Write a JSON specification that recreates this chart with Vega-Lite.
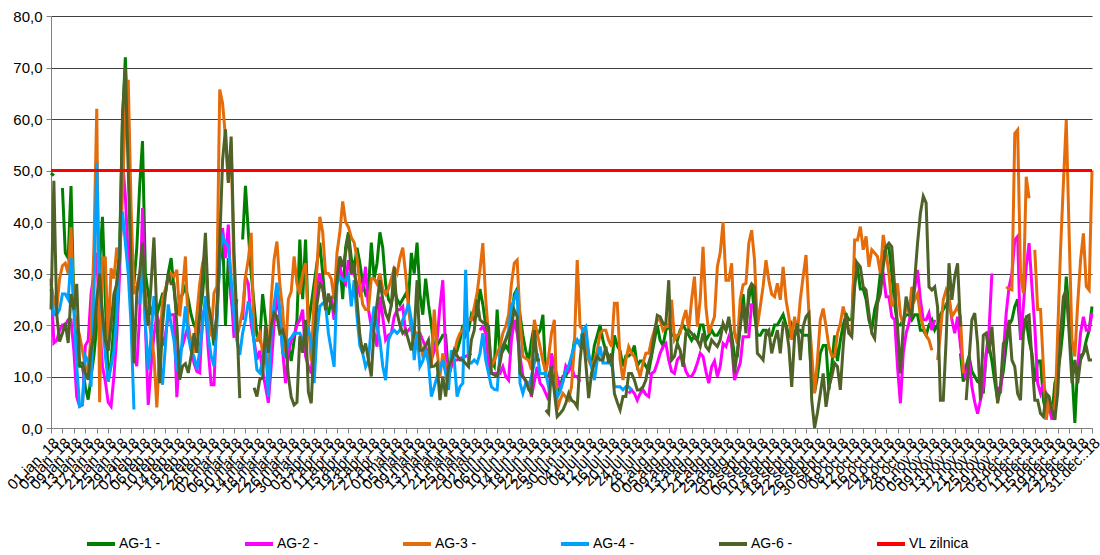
{
"$schema":"https://vega.github.io/schema/vega-lite/v6.json",
"width":1041,"height":412,
"autosize":{"type":"none"},
"padding":{"left":51,"top":16,"right":8,"bottom":127},
"background":"white",
"config":{"view":{"stroke":null},"font":"Liberation Sans"},
"datasets":{
"vl":[{"zi":0,"s":"vl","val":50},{"zi":364,"s":"vl","val":50}],
"ag":[
{"zi":0,"a1":49.5,"a2":29,"a3":28,"a4":27,"a6":23},
{"zi":1,"a1":49,"a2":16.5,"a3":25,"a4":22,"a6":48},
{"zi":2,"a1":null,"a2":17,"a3":23,"a4":22,"a6":22},
{"zi":3,"a1":null,"a2":19,"a3":29,"a4":23,"a6":16.8},
{"zi":4,"a1":46.6,"a2":20,"a3":31.5,"a4":26,"a6":18.4},
{"zi":5,"a1":34,"a2":20,"a3":32,"a4":26,"a6":20.4},
{"zi":6,"a1":33,"a2":21,"a3":30,"a4":25,"a6":16.5},
{"zi":7,"a1":47,"a2":21,"a3":39,"a4":33,"a6":26},
{"zi":8,"a1":24,"a2":15,"a3":23,"a4":23,"a6":23},
{"zi":9,"a1":15,"a2":6,"a3":20,"a4":12,"a6":28},
{"zi":10,"a1":12,"a2":4.2,"a3":18,"a4":4.2,"a6":12.6},
{"zi":11,"a1":12,"a2":4.5,"a3":15,"a4":4.5,"a6":12.6},
{"zi":12,"a1":8,"a2":16,"a3":12,"a4":14,"a6":10.7},
{"zi":13,"a1":5.5,"a2":17,"a3":11,"a4":13,"a6":9.4},
{"zi":14,"a1":10,"a2":26,"a3":18,"a4":8,"a6":15.2},
{"zi":15,"a1":14,"a2":30,"a3":35,"a4":25,"a6":18},
{"zi":16,"a1":20,"a2":34,"a3":62,"a4":51.5,"a6":25},
{"zi":17,"a1":32,"a2":20,"a3":5,"a4":27.5,"a6":30},
{"zi":18,"a1":41,"a2":12,"a3":33,"a4":22,"a6":22},
{"zi":19,"a1":25,"a2":9,"a3":33,"a4":14,"a6":17},
{"zi":20,"a1":9,"a2":5,"a3":17,"a4":9,"a6":15},
{"zi":21,"a1":13,"a2":4.2,"a3":31,"a4":12,"a6":20},
{"zi":22,"a1":20,"a2":10,"a3":29,"a4":15,"a6":26},
{"zi":23,"a1":28,"a2":18,"a3":35,"a4":22,"a6":28},
{"zi":24,"a1":35,"a2":30,"a3":33,"a4":35,"a6":33},
{"zi":25,"a1":60,"a2":52,"a3":45,"a4":42,"a6":60.5},
{"zi":26,"a1":72,"a2":45,"a3":62,"a4":36,"a6":70},
{"zi":27,"a1":55,"a2":33,"a3":67.6,"a4":30,"a6":50},
{"zi":28,"a1":31,"a2":25,"a3":43,"a4":20,"a6":32},
{"zi":29,"a1":28,"a2":14,"a3":26,"a4":3.6,"a6":12.6},
{"zi":30,"a1":35,"a2":12,"a3":27.5,"a4":null,"a6":26},
{"zi":31,"a1":47,"a2":22,"a3":30,"a4":24,"a6":30},
{"zi":32,"a1":55.7,"a2":42.7,"a3":32,"a4":31,"a6":36},
{"zi":33,"a1":30,"a2":20,"a3":26,"a4":20,"a6":24},
{"zi":34,"a1":26,"a2":4.5,"a3":22,"a4":11.3,"a6":20},
{"zi":35,"a1":22,"a2":12,"a3":18,"a4":18,"a6":28},
{"zi":36,"a1":24,"a2":18,"a3":14,"a4":25.6,"a6":37},
{"zi":37,"a1":22,"a2":22,"a3":4,"a4":20,"a6":22},
{"zi":38,"a1":24,"a2":20,"a3":15,"a4":13,"a6":8.7},
{"zi":39,"a1":26,"a2":16,"a3":25,"a4":8.4,"a6":20},
{"zi":40,"a1":26,"a2":18,"a3":27,"a4":16,"a6":26},
{"zi":41,"a1":30,"a2":22,"a3":29,"a4":24,"a6":30},
{"zi":42,"a1":33,"a2":22,"a3":30,"a4":20,"a6":28},
{"zi":43,"a1":27,"a2":22,"a3":29.4,"a4":17,"a6":28},
{"zi":44,"a1":22,"a2":6,"a3":30.7,"a4":11.3,"a6":20},
{"zi":45,"a1":25,"a2":14.6,"a3":21.7,"a4":11.3,"a6":9.4},
{"zi":46,"a1":26,"a2":16,"a3":27,"a4":18,"a6":12},
{"zi":47,"a1":27.5,"a2":18,"a3":33.3,"a4":23.6,"a6":12.5},
{"zi":48,"a1":25,"a2":20,"a3":19,"a4":17.8,"a6":10.7},
{"zi":49,"a1":22,"a2":16,"a3":17,"a4":15,"a6":14},
{"zi":50,"a1":20,"a2":12.6,"a3":14.6,"a4":13.9,"a6":18.4},
{"zi":51,"a1":19,"a2":11,"a3":22,"a4":11.3,"a6":14.6},
{"zi":52,"a1":22,"a2":10.7,"a3":28,"a4":15,"a6":21.7},
{"zi":53,"a1":26,"a2":22,"a3":32,"a4":19.8,"a6":29.4},
{"zi":54,"a1":33,"a2":23.6,"a3":34,"a4":25.6,"a6":37.9},
{"zi":55,"a1":24,"a2":15,"a3":22.3,"a4":17.8,"a6":24},
{"zi":56,"a1":20,"a2":8.4,"a3":17.8,"a4":14,"a6":21},
{"zi":57,"a1":16,"a2":8.4,"a3":26.2,"a4":12,"a6":17},
{"zi":58,"a1":22,"a2":23.6,"a3":27.5,"a4":19.8,"a6":22},
{"zi":59,"a1":32,"a2":34,"a3":65.7,"a4":34,"a6":36},
{"zi":60,"a1":38,"a2":38.8,"a3":63,"a4":37.2,"a6":52},
{"zi":61,"a1":20,"a2":33,"a3":56.6,"a4":36,"a6":58},
{"zi":62,"a1":33,"a2":39.5,"a3":48,"a4":35.3,"a6":47.6},
{"zi":63,"a1":25,"a2":26,"a3":54.7,"a4":28.8,"a6":56.6},
{"zi":64,"a1":22,"a2":17.5,"a3":30,"a4":22,"a6":34},
{"zi":65,"a1":25,"a2":null,"a3":17.8,"a4":17,"a6":21},
{"zi":66,"a1":null,"a2":null,"a3":20,"a4":14.2,"a6":5.8},
{"zi":67,"a1":36.6,"a2":21,"a3":23,"a4":18.4,"a6":null},
{"zi":68,"a1":47,"a2":29.4,"a3":29.4,"a4":21,"a6":null},
{"zi":69,"a1":38,"a2":28,"a3":32.7,"a4":24.6,"a6":null},
{"zi":70,"a1":30,"a2":20,"a3":37.9,"a4":22.3,"a6":null},
{"zi":71,"a1":24,"a2":17,"a3":17,"a4":16.5,"a6":7.8},
{"zi":72,"a1":18,"a2":13.3,"a3":17,"a4":11.3,"a6":6.1},
{"zi":73,"a1":17,"a2":15,"a3":18.4,"a4":10.7,"a6":9.4},
{"zi":74,"a1":26,"a2":11,"a3":14.6,"a4":13,"a6":9.7},
{"zi":75,"a1":21,"a2":8,"a3":13,"a4":16.5,"a6":19.8},
{"zi":76,"a1":15,"a2":4.9,"a3":12,"a4":6.1,"a6":14.6},
{"zi":77,"a1":19,"a2":12,"a3":25,"a4":18.4,"a6":19.8},
{"zi":78,"a1":21,"a2":20,"a3":32.7,"a4":24,"a6":22.3},
{"zi":79,"a1":25,"a2":27.5,"a3":36.2,"a4":28.2,"a6":21.7},
{"zi":80,"a1":22,"a2":22.3,"a3":28,"a4":22.9,"a6":18.4},
{"zi":81,"a1":19,"a2":15,"a3":23,"a4":14.6,"a6":19},
{"zi":82,"a1":15,"a2":8.7,"a3":14,"a4":13.9,"a6":17},
{"zi":83,"a1":16,"a2":14.6,"a3":25,"a4":17,"a6":10},
{"zi":84,"a1":13,"a2":17,"a3":26.5,"a4":17.5,"a6":6},
{"zi":85,"a1":17,"a2":18,"a3":33.3,"a4":18.4,"a6":4.5},
{"zi":86,"a1":21,"a2":20,"a3":28,"a4":18.4,"a6":5},
{"zi":87,"a1":36.6,"a2":21,"a3":26,"a4":18.4,"a6":17.8},
{"zi":88,"a1":25,"a2":23,"a3":30,"a4":17,"a6":14.6},
{"zi":89,"a1":36.6,"a2":14,"a3":32,"a4":17.5,"a6":21},
{"zi":90,"a1":20,"a2":12,"a3":20,"a4":19,"a6":7},
{"zi":91,"a1":24,"a2":10.6,"a3":13,"a4":17.1,"a6":4.8},
{"zi":92,"a1":28,"a2":20,"a3":25,"a4":8.7,"a6":17.1},
{"zi":93,"a1":32,"a2":28,"a3":31,"a4":18.4,"a6":24},
{"zi":94,"a1":36,"a2":30,"a3":41,"a4":23.6,"a6":28},
{"zi":95,"a1":30,"a2":27,"a3":38,"a4":24.2,"a6":27.4},
{"zi":96,"a1":24,"a2":24,"a3":30,"a4":24,"a6":22.9},
{"zi":97,"a1":22,"a2":25,"a3":30,"a4":18.4,"a6":26.1},
{"zi":98,"a1":25,"a2":25,"a3":29,"a4":15.1,"a6":24},
{"zi":99,"a1":26,"a2":21,"a3":25,"a4":11.9,"a6":22.9},
{"zi":100,"a1":30,"a2":28.7,"a3":34,"a4":28,"a6":28.7},
{"zi":101,"a1":32,"a2":31.3,"a3":38,"a4":29.4,"a6":33.3},
{"zi":102,"a1":25,"a2":29,"a3":44,"a4":28.7,"a6":31.3},
{"zi":103,"a1":35,"a2":28,"a3":40,"a4":28.7,"a6":34},
{"zi":104,"a1":38,"a2":32.6,"a3":39,"a4":29.7,"a6":37.5},
{"zi":105,"a1":33,"a2":30,"a3":37,"a4":23.6,"a6":30},
{"zi":106,"a1":31,"a2":30,"a3":36,"a4":28.7,"a6":32},
{"zi":107,"a1":35,"a2":28,"a3":33,"a4":21.6,"a6":24.9},
{"zi":108,"a1":32,"a2":26,"a3":28,"a4":16,"a6":18},
{"zi":109,"a1":28,"a2":27,"a3":24,"a4":14.5,"a6":14.5},
{"zi":110,"a1":26,"a2":31.3,"a3":23,"a4":11.9,"a6":16.4},
{"zi":111,"a1":27,"a2":23,"a3":23,"a4":13.2,"a6":13.2},
{"zi":112,"a1":36,"a2":19.7,"a3":29,"a4":19.7,"a6":10},
{"zi":113,"a1":29,"a2":18.4,"a3":29,"a4":23.6,"a6":19.7},
{"zi":114,"a1":32,"a2":15.8,"a3":28,"a4":19.7,"a6":24.2},
{"zi":115,"a1":38,"a2":25.5,"a3":30,"a4":17.1,"a6":28.7},
{"zi":116,"a1":35,"a2":21.6,"a3":27,"a4":12,"a6":25},
{"zi":117,"a1":28,"a2":17.1,"a3":26,"a4":9.3,"a6":22.3},
{"zi":118,"a1":25,"a2":18,"a3":27,"a4":17.1,"a6":21},
{"zi":119,"a1":24,"a2":18.4,"a3":29,"a4":18.4,"a6":24},
{"zi":120,"a1":27,"a2":21.6,"a3":31,"a4":19,"a6":31.3},
{"zi":121,"a1":25,"a2":22.9,"a3":30,"a4":18.4,"a6":22.3},
{"zi":122,"a1":24,"a2":23,"a3":33,"a4":19,"a6":20},
{"zi":123,"a1":25,"a2":23.6,"a3":35,"a4":21,"a6":18.4},
{"zi":124,"a1":26,"a2":18.4,"a3":30,"a4":22.3,"a6":19},
{"zi":125,"a1":25,"a2":19,"a3":23,"a4":24.2,"a6":17},
{"zi":126,"a1":34,"a2":19.7,"a3":19,"a4":21,"a6":15.1},
{"zi":127,"a1":30,"a2":18.4,"a3":19,"a4":13.2,"a6":18.4},
{"zi":128,"a1":36,"a2":18.4,"a3":18,"a4":18.4,"a6":28.7},
{"zi":129,"a1":26,"a2":18.4,"a3":17,"a4":11.9,"a6":15.1},
{"zi":130,"a1":22,"a2":17,"a3":14,"a4":13,"a6":15.1},
{"zi":131,"a1":29,"a2":15.8,"a3":15,"a4":15.1,"a6":16},
{"zi":132,"a1":24,"a2":14,"a3":14,"a4":12.6,"a6":17.1},
{"zi":133,"a1":20,"a2":13.2,"a3":12,"a4":6.1,"a6":11.9},
{"zi":134,"a1":15,"a2":15,"a3":23,"a4":8,"a6":12},
{"zi":135,"a1":16,"a2":17.1,"a3":15,"a4":10,"a6":12.6},
{"zi":136,"a1":17,"a2":23.6,"a3":10,"a4":11.3,"a6":5.4},
{"zi":137,"a1":18,"a2":28.7,"a3":14.5,"a4":13.2,"a6":10},
{"zi":138,"a1":18,"a2":14.5,"a3":12,"a4":10.6,"a6":6.1},
{"zi":139,"a1":10,"a2":10.6,"a3":12,"a4":7.4,"a6":11.9},
{"zi":140,"a1":12,"a2":12,"a3":13,"a4":15.1,"a6":13},
{"zi":141,"a1":14,"a2":13.2,"a3":14.5,"a4":13.2,"a6":15.1},
{"zi":142,"a1":15,"a2":13.2,"a3":17,"a4":6.1,"a6":14},
{"zi":143,"a1":17,"a2":13.5,"a3":18.4,"a4":8,"a6":13.2},
{"zi":144,"a1":20,"a2":13.7,"a3":19,"a4":8.7,"a6":13.2},
{"zi":145,"a1":18,"a2":13.9,"a3":20.3,"a4":30.7,"a6":12.5},
{"zi":146,"a1":19,"a2":14.2,"a3":21,"a4":12.6,"a6":11.9},
{"zi":147,"a1":22,"a2":14.5,"a3":21,"a4":12.6,"a6":17.1},
{"zi":148,"a1":21,"a2":null,"a3":23.5,"a4":13.2,"a6":19},
{"zi":149,"a1":22,"a2":null,"a3":26.2,"a4":12.6,"a6":24.9},
{"zi":150,"a1":27,"a2":19,"a3":30.7,"a4":14.5,"a6":21},
{"zi":151,"a1":24,"a2":19.7,"a3":35.9,"a4":18.4,"a6":20.5},
{"zi":152,"a1":20,"a2":18.4,"a3":25,"a4":13.2,"a6":20.4},
{"zi":153,"a1":16,"a2":12.6,"a3":18,"a4":10.6,"a6":19.7},
{"zi":154,"a1":13,"a2":10.6,"a3":12,"a4":8,"a6":10.6},
{"zi":155,"a1":12,"a2":10.6,"a3":13,"a4":7.5,"a6":10.3},
{"zi":156,"a1":23,"a2":10.6,"a3":14.5,"a4":7.4,"a6":10},
{"zi":157,"a1":14,"a2":10.6,"a3":15.8,"a4":14.5,"a6":12.6},
{"zi":158,"a1":15,"a2":11.9,"a3":18.4,"a4":15.8,"a6":15.8},
{"zi":159,"a1":16,"a2":10,"a3":19.7,"a4":17.1,"a6":17.1},
{"zi":160,"a1":15,"a2":9.3,"a3":22,"a4":19,"a6":18.4},
{"zi":161,"a1":21,"a2":17.1,"a3":28,"a4":23.6,"a6":20},
{"zi":162,"a1":26,"a2":21,"a3":32,"a4":25,"a6":22.9},
{"zi":163,"a1":27,"a2":18.4,"a3":32.6,"a4":26.8,"a6":21.6},
{"zi":164,"a1":22,"a2":14,"a3":21,"a4":8.7,"a6":10.6},
{"zi":165,"a1":18,"a2":10,"a3":13.9,"a4":6.7,"a6":10},
{"zi":166,"a1":15,"a2":9,"a3":13.5,"a4":8.7,"a6":9.3},
{"zi":167,"a1":13,"a2":8.7,"a3":13.2,"a4":8,"a6":7.5},
{"zi":168,"a1":17,"a2":6.1,"a3":11.3,"a4":10,"a6":6.7},
{"zi":169,"a1":20,"a2":9,"a3":21,"a4":12.6,"a6":19},
{"zi":170,"a1":18,"a2":11.9,"a3":18.4,"a4":14.5,"a6":13.2},
{"zi":171,"a1":19,"a2":8.7,"a3":15.8,"a4":10.6,"a6":13.2},
{"zi":172,"a1":22,"a2":8,"a3":13,"a4":10.6,"a6":null},
{"zi":173,"a1":10,"a2":6.7,"a3":10.6,"a4":10.6,"a6":3.5},
{"zi":174,"a1":10,"a2":5.4,"a3":13.9,"a4":8,"a6":2.8},
{"zi":175,"a1":12,"a2":14.5,"a3":18.4,"a4":9.3,"a6":11.9},
{"zi":176,"a1":13,"a2":12,"a3":21,"a4":8,"a6":7},
{"zi":177,"a1":6,"a2":10,"a3":3.5,"a4":6,"a6":2.2},
{"zi":178,"a1":8,"a2":8,"a3":5.4,"a4":7,"a6":2.8},
{"zi":179,"a1":10,"a2":9,"a3":6.7,"a4":9,"a6":3.5},
{"zi":180,"a1":10,"a2":12,"a3":6,"a4":11,"a6":4.8},
{"zi":181,"a1":12,"a2":11,"a3":5.4,"a4":12,"a6":6.7},
{"zi":182,"a1":13,"a2":12,"a3":8,"a4":14,"a6":5.4},
{"zi":183,"a1":17,"a2":10,"a3":15.8,"a4":16,"a6":5},
{"zi":184,"a1":17,"a2":10,"a3":32.6,"a4":17.1,"a6":4.1},
{"zi":185,"a1":16,"a2":9,"a3":19.7,"a4":16,"a6":13.2},
{"zi":186,"a1":19,"a2":null,"a3":19,"a4":19,"a6":18.4},
{"zi":187,"a1":18,"a2":null,"a3":16,"a4":19.7,"a6":12.6},
{"zi":188,"a1":14,"a2":null,"a3":13.2,"a4":14.5,"a6":5.8},
{"zi":189,"a1":12,"a2":null,"a3":11.9,"a4":11.9,"a6":10.6},
{"zi":190,"a1":16,"a2":null,"a3":13.2,"a4":9.3,"a6":12.6},
{"zi":191,"a1":18,"a2":null,"a3":15,"a4":13.2,"a6":13.9},
{"zi":192,"a1":20,"a2":null,"a3":18.4,"a4":15.8,"a6":13.2},
{"zi":193,"a1":17,"a2":null,"a3":19,"a4":12.6,"a6":13.2},
{"zi":194,"a1":15,"a2":null,"a3":19,"a4":12.6,"a6":15.8},
{"zi":195,"a1":14,"a2":null,"a3":17,"a4":12.6,"a6":12.6},
{"zi":196,"a1":12,"a2":null,"a3":15.8,"a4":13.2,"a6":14.5},
{"zi":197,"a1":18,"a2":null,"a3":24.2,"a4":8,"a6":6.7},
{"zi":198,"a1":16,"a2":null,"a3":24.2,"a4":8,"a6":5},
{"zi":199,"a1":15,"a2":null,"a3":13.2,"a4":8,"a6":3.5},
{"zi":200,"a1":12,"a2":null,"a3":9.3,"a4":7.4,"a6":6.1},
{"zi":201,"a1":14,"a2":null,"a3":13.2,"a4":8,"a6":6.1},
{"zi":202,"a1":14,"a2":6.7,"a3":15.8,"a4":8,"a6":10.6},
{"zi":203,"a1":14.5,"a2":7.4,"a3":14.5,"a4":7.4,"a6":10.6},
{"zi":204,"a1":16,"a2":6.7,"a3":13.9,"a4":null,"a6":9.3},
{"zi":205,"a1":12,"a2":5.4,"a3":12,"a4":null,"a6":7.4},
{"zi":206,"a1":13,"a2":6.7,"a3":10,"a4":null,"a6":7.4},
{"zi":207,"a1":13,"a2":7.4,"a3":12.6,"a4":null,"a6":8},
{"zi":208,"a1":12,"a2":6.5,"a3":14.5,"a4":null,"a6":9.3},
{"zi":209,"a1":11,"a2":6.1,"a3":14.5,"a4":null,"a6":12.6},
{"zi":210,"a1":14,"a2":10.6,"a3":17.1,"a4":null,"a6":14.5},
{"zi":211,"a1":17,"a2":11,"a3":19,"a4":null,"a6":18.4},
{"zi":212,"a1":20,"a2":12.6,"a3":21,"a4":null,"a6":21.9},
{"zi":213,"a1":17,"a2":14.5,"a3":21,"a4":null,"a6":21.6},
{"zi":214,"a1":16,"a2":15.8,"a3":19,"a4":null,"a6":20.3},
{"zi":215,"a1":19,"a2":16.4,"a3":19.7,"a4":null,"a6":20.3},
{"zi":216,"a1":20,"a2":13.2,"a3":19.7,"a4":null,"a6":28.7},
{"zi":217,"a1":18,"a2":11,"a3":24.9,"a4":null,"a6":13.2},
{"zi":218,"a1":18,"a2":10.6,"a3":17.1,"a4":null,"a6":13.9},
{"zi":219,"a1":17,"a2":13.2,"a3":18,"a4":null,"a6":16.4},
{"zi":220,"a1":19,"a2":13.9,"a3":18.4,"a4":null,"a6":15.1},
{"zi":221,"a1":20,"a2":13.2,"a3":21,"a4":null,"a6":11.9},
{"zi":222,"a1":19,"a2":11,"a3":22.9,"a4":null,"a6":18.4},
{"zi":223,"a1":18,"a2":10,"a3":19,"a4":null,"a6":19},
{"zi":224,"a1":17,"a2":10,"a3":24.9,"a4":null,"a6":18.4},
{"zi":225,"a1":18,"a2":11,"a3":29.4,"a4":null,"a6":17.5},
{"zi":226,"a1":17,"a2":12.6,"a3":19.7,"a4":null,"a6":17.1},
{"zi":227,"a1":20,"a2":14.5,"a3":24.9,"a4":null,"a6":15.8},
{"zi":228,"a1":20,"a2":13.9,"a3":35.2,"a4":null,"a6":18.4},
{"zi":229,"a1":17,"a2":11,"a3":23.5,"a4":null,"a6":15.8},
{"zi":230,"a1":18,"a2":8.7,"a3":18.4,"a4":null,"a6":15.1},
{"zi":231,"a1":19,"a2":11.9,"a3":20,"a4":null,"a6":17.1},
{"zi":232,"a1":18,"a2":13,"a3":21.6,"a4":null,"a6":16.4},
{"zi":233,"a1":18,"a2":10,"a3":31.3,"a4":null,"a6":15.8},
{"zi":234,"a1":19,"a2":12,"a3":34,"a4":null,"a6":17.1},
{"zi":235,"a1":20,"a2":16.4,"a3":40,"a4":null,"a6":20.3},
{"zi":236,"a1":19,"a2":15.8,"a3":28.7,"a4":null,"a6":19},
{"zi":237,"a1":21,"a2":17.7,"a3":28.7,"a4":null,"a6":21.6},
{"zi":238,"a1":18,"a2":16.4,"a3":32,"a4":null,"a6":17.1},
{"zi":239,"a1":14,"a2":9.3,"a3":18.4,"a4":null,"a6":10.6},
{"zi":240,"a1":14,"a2":11,"a3":16.4,"a4":null,"a6":15},
{"zi":241,"a1":20,"a2":12.6,"a3":24.9,"a4":null,"a6":19.7},
{"zi":242,"a1":26,"a2":17.7,"a3":27.8,"a4":null,"a6":24.2},
{"zi":243,"a1":20,"a2":17.7,"a3":28.1,"a4":null,"a6":18.4},
{"zi":244,"a1":25,"a2":17.7,"a3":35.9,"a4":null,"a6":26.8},
{"zi":245,"a1":28,"a2":24.2,"a3":38.4,"a4":null,"a6":28},
{"zi":246,"a1":22,"a2":null,"a3":32.6,"a4":null,"a6":27.4},
{"zi":247,"a1":18,"a2":null,"a3":19.7,"a4":null,"a6":14.5},
{"zi":248,"a1":18,"a2":null,"a3":23.6,"a4":null,"a6":13.9},
{"zi":249,"a1":19,"a2":null,"a3":27.5,"a4":null,"a6":13.2},
{"zi":250,"a1":19,"a2":null,"a3":32.6,"a4":null,"a6":18.4},
{"zi":251,"a1":18,"a2":null,"a3":28.7,"a4":null,"a6":19},
{"zi":252,"a1":18,"a2":null,"a3":26,"a4":null,"a6":14.5},
{"zi":253,"a1":20,"a2":null,"a3":25.5,"a4":null,"a6":17},
{"zi":254,"a1":20,"a2":null,"a3":28.1,"a4":null,"a6":19},
{"zi":255,"a1":21,"a2":null,"a3":24.9,"a4":null,"a6":14.5},
{"zi":256,"a1":22,"a2":null,"a3":31.3,"a4":null,"a6":20.3},
{"zi":257,"a1":20,"a2":null,"a3":24.9,"a4":null,"a6":19.7},
{"zi":258,"a1":18,"a2":null,"a3":21.6,"a4":null,"a6":15.8},
{"zi":259,"a1":20,"a2":null,"a3":17.1,"a4":null,"a6":8},
{"zi":260,"a1":18,"a2":null,"a3":21.6,"a4":null,"a6":17.7},
{"zi":261,"a1":19,"a2":null,"a3":18.4,"a4":null,"a6":20.3},
{"zi":262,"a1":19,"a2":null,"a3":24.9,"a4":null,"a6":13.2},
{"zi":263,"a1":18,"a2":null,"a3":29.4,"a4":null,"a6":19.7},
{"zi":264,"a1":18,"a2":null,"a3":33.6,"a4":null,"a6":21.6},
{"zi":265,"a1":18,"a2":null,"a3":22.3,"a4":null,"a6":22.3},
{"zi":266,"a1":9,"a2":null,"a3":14.5,"a4":null,"a6":5.4},
{"zi":267,"a1":7,"a2":null,"a3":6.7,"a4":null,"a6":0},
{"zi":268,"a1":10,"a2":null,"a3":13.2,"a4":null,"a6":3},
{"zi":269,"a1":14.5,"a2":null,"a3":21,"a4":null,"a6":6.7},
{"zi":270,"a1":16,"a2":null,"a3":23.2,"a4":null,"a6":10.6},
{"zi":271,"a1":16,"a2":null,"a3":19.7,"a4":null,"a6":4.1},
{"zi":272,"a1":7.4,"a2":null,"a3":15.8,"a4":null,"a6":8},
{"zi":273,"a1":12,"a2":null,"a3":14,"a4":null,"a6":10},
{"zi":274,"a1":18,"a2":null,"a3":13.9,"a4":null,"a6":12.6},
{"zi":275,"a1":13,"a2":null,"a3":18.4,"a4":null,"a6":11.9},
{"zi":276,"a1":17,"a2":null,"a3":20.3,"a4":null,"a6":7.4},
{"zi":277,"a1":20,"a2":null,"a3":23.6,"a4":null,"a6":15.8},
{"zi":278,"a1":22,"a2":null,"a3":21,"a4":null,"a6":22.3},
{"zi":279,"a1":21,"a2":null,"a3":18.4,"a4":null,"a6":18.4},
{"zi":280,"a1":21,"a2":null,"a3":18.4,"a4":null,"a6":17.7},
{"zi":281,"a1":33,"a2":null,"a3":36.5,"a4":null,"a6":27.4},
{"zi":282,"a1":31,"a2":null,"a3":36.5,"a4":null,"a6":32},
{"zi":283,"a1":27,"a2":null,"a3":39.1,"a4":null,"a6":31.3},
{"zi":284,"a1":27,"a2":null,"a3":34.6,"a4":null,"a6":27.4},
{"zi":285,"a1":25,"a2":null,"a3":37.2,"a4":null,"a6":26.8},
{"zi":286,"a1":21,"a2":null,"a3":31.3,"a4":null,"a6":22.3},
{"zi":287,"a1":19,"a2":null,"a3":34.6,"a4":null,"a6":18.4},
{"zi":288,"a1":23,"a2":null,"a3":34,"a4":null,"a6":17.4},
{"zi":289,"a1":25,"a2":null,"a3":33.3,"a4":null,"a6":24.2},
{"zi":290,"a1":30,"a2":32,"a3":30,"a4":null,"a6":26.1},
{"zi":291,"a1":34,"a2":30,"a3":37.5,"a4":null,"a6":31.3},
{"zi":292,"a1":35,"a2":25.5,"a3":34,"a4":null,"a6":35.2},
{"zi":293,"a1":35,"a2":25.5,"a3":30,"a4":null,"a6":35.9},
{"zi":294,"a1":30,"a2":21.6,"a3":23.6,"a4":null,"a6":35.2},
{"zi":295,"a1":24,"a2":21,"a3":24.9,"a4":null,"a6":27.4},
{"zi":296,"a1":20,"a2":11.9,"a3":28.1,"a4":null,"a6":19.7},
{"zi":297,"a1":20,"a2":4.8,"a3":22,"a4":null,"a6":10.6},
{"zi":298,"a1":21,"a2":14.5,"a3":20,"a4":null,"a6":19.7},
{"zi":299,"a1":22,"a2":18.4,"a3":24,"a4":null,"a6":25.5},
{"zi":300,"a1":22,"a2":20.4,"a3":22.3,"a4":null,"a6":23},
{"zi":301,"a1":21,"a2":23.6,"a3":27.4,"a4":null,"a6":21.6},
{"zi":302,"a1":22,"a2":27,"a3":24.9,"a4":null,"a6":28.7},
{"zi":303,"a1":22,"a2":30.7,"a3":26.1,"a4":null,"a6":35.9},
{"zi":304,"a1":19,"a2":24.9,"a3":21.6,"a4":null,"a6":41.7},
{"zi":305,"a1":19,"a2":21,"a3":19.7,"a4":null,"a6":45},
{"zi":306,"a1":18,"a2":21,"a3":18,"a4":null,"a6":43.7},
{"zi":307,"a1":20,"a2":22.3,"a3":17.1,"a4":null,"a6":27.4},
{"zi":308,"a1":21,"a2":19,"a3":15.1,"a4":null,"a6":26.8},
{"zi":309,"a1":19,"a2":21,"a3":null,"a4":null,"a6":27.4},
{"zi":310,"a1":20,"a2":null,"a3":13.2,"a4":null,"a6":23.5},
{"zi":311,"a1":22,"a2":null,"a3":18.4,"a4":null,"a6":5.4},
{"zi":312,"a1":23,"a2":null,"a3":24.9,"a4":null,"a6":5.4},
{"zi":313,"a1":24,"a2":23.6,"a3":26.8,"a4":null,"a6":17.1},
{"zi":314,"a1":25,"a2":24.9,"a3":25.5,"a4":null,"a6":32},
{"zi":315,"a1":null,"a2":21,"a3":21.6,"a4":null,"a6":24.9},
{"zi":316,"a1":null,"a2":18.4,"a3":22.5,"a4":null,"a6":29.4},
{"zi":317,"a1":null,"a2":21.6,"a3":23.6,"a4":null,"a6":32},
{"zi":318,"a1":14.5,"a2":16,"a3":21.6,"a4":null,"a6":19.7},
{"zi":319,"a1":9,"a2":11.9,"a3":10.6,"a4":null,"a6":null},
{"zi":320,"a1":12,"a2":9.3,"a3":null,"a4":null,"a6":5.4},
{"zi":321,"a1":14,"a2":13.2,"a3":null,"a4":null,"a6":13.2},
{"zi":322,"a1":11,"a2":8,"a3":null,"a4":null,"a6":21},
{"zi":323,"a1":10,"a2":5,"a3":null,"a4":null,"a6":22.3},
{"zi":324,"a1":9,"a2":2.8,"a3":null,"a4":null,"a6":16.4},
{"zi":325,"a1":8.7,"a2":5.4,"a3":null,"a4":null,"a6":5.4},
{"zi":326,"a1":6.7,"a2":8,"a3":null,"a4":null,"a6":18},
{"zi":327,"a1":14.5,"a2":14.5,"a3":null,"a4":null,"a6":18.4},
{"zi":328,"a1":16,"a2":19,"a3":null,"a4":null,"a6":14.5},
{"zi":329,"a1":13,"a2":30,"a3":null,"a4":null,"a6":19.7},
{"zi":330,"a1":9,"a2":null,"a3":null,"a4":null,"a6":11.9},
{"zi":331,"a1":5.4,"a2":8,"a3":null,"a4":null,"a6":4.8},
{"zi":332,"a1":8,"a2":6.7,"a3":null,"a4":null,"a6":8},
{"zi":333,"a1":11,"a2":14.5,"a3":null,"a4":null,"a6":16.4},
{"zi":334,"a1":16,"a2":22.3,"a3":27.4,"a4":null,"a6":17.1},
{"zi":335,"a1":20,"a2":27.4,"a3":27,"a4":null,"a6":21},
{"zi":336,"a1":21,"a2":30,"a3":26.8,"a4":null,"a6":13.2},
{"zi":337,"a1":23.6,"a2":36.5,"a3":57.2,"a4":null,"a6":11.9},
{"zi":338,"a1":25,"a2":37.2,"a3":57.9,"a4":null,"a6":6.7},
{"zi":339,"a1":18,"a2":17.1,"a3":30,"a4":null,"a6":5.4},
{"zi":340,"a1":21,"a2":23.6,"a3":26.2,"a4":null,"a6":18.4},
{"zi":341,"a1":21,"a2":31.3,"a3":48.8,"a4":null,"a6":21.6},
{"zi":342,"a1":17,"a2":35.9,"a3":44.6,"a4":null,"a6":21.9},
{"zi":343,"a1":14.5,"a2":27.4,"a3":null,"a4":null,"a6":13.2},
{"zi":344,"a1":9,"a2":19.7,"a3":34.6,"a4":null,"a6":5.4},
{"zi":345,"a1":13,"a2":8.7,"a3":23,"a4":null,"a6":5.4},
{"zi":346,"a1":13,"a2":6.7,"a3":23,"a4":null,"a6":2.8},
{"zi":347,"a1":5.4,"a2":8.7,"a3":11.9,"a4":null,"a6":2.2},
{"zi":348,"a1":2.8,"a2":6.1,"a3":1.6,"a4":null,"a6":6.7},
{"zi":349,"a1":4,"a2":4.1,"a3":5.4,"a4":null,"a6":6.1},
{"zi":350,"a1":2.2,"a2":1.6,"a3":4.1,"a4":null,"a6":3.5},
{"zi":351,"a1":8.7,"a2":5.4,"a3":1.6,"a4":null,"a6":1.6},
{"zi":352,"a1":10.6,"a2":8,"a3":18.4,"a4":null,"a6":6.7},
{"zi":353,"a1":14.5,"a2":null,"a3":34.6,"a4":null,"a6":18.4},
{"zi":354,"a1":20,"a2":null,"a3":47.5,"a4":null,"a6":25.5},
{"zi":355,"a1":29.4,"a2":null,"a3":59.8,"a4":null,"a6":26.8},
{"zi":356,"a1":22,"a2":null,"a3":37.8,"a4":null,"a6":18.4},
{"zi":357,"a1":11.3,"a2":null,"a3":17.1,"a4":null,"a6":8.7},
{"zi":358,"a1":1,"a2":null,"a3":13.9,"a4":null,"a6":13.2},
{"zi":359,"a1":12,"a2":11.9,"a3":24.2,"a4":null,"a6":8.7},
{"zi":360,"a1":14,"a2":18.4,"a3":32.6,"a4":null,"a6":13.2},
{"zi":361,"a1":14.5,"a2":21.6,"a3":37.8,"a4":null,"a6":14.5},
{"zi":362,"a1":17,"a2":19,"a3":27.5,"a4":null,"a6":15.8},
{"zi":363,"a1":19,"a2":19,"a3":26.8,"a4":null,"a6":13.2},
{"zi":364,"a1":23.6,"a2":22.3,"a3":50,"a4":null,"a6":13.2}
]},
"encoding":{
"x":{"field":"zi","type":"quantitative","scale":{"domain":[0,364],"nice":false,"zero":false},
"axis":{"title":null,"grid":false,"values":[0,4,8,12,16,20,24,28,32,36,40,44,48,52,56,60,64,68,72,76,80,84,88,92,96,100,104,108,112,116,120,124,128,132,136,140,144,148,152,156,160,164,168,172,176,180,184,188,192,196,200,204,208,212,216,220,224,228,232,236,240,244,248,252,256,260,264,268,272,276,280,284,288,292,296,300,304,308,312,316,320,324,328,332,336,340,344,348,352,356,360,364],
"labelExpr":"timeFormat(datetime(2018,0,1+datum.value),'%d')+'.'+['ian.','feb.','mar.','apr.','mai','iun.','iul.','aug.','sept.','oct.','nov.','dec.'][month(datetime(2018,0,1+datum.value))]+'.18'",
"labelAngle":-45,"labelFontSize":15,"labelColor":"#000000","labelOverlap":false,"labelBound":false,"labelFlush":false,"labelPadding":2,
"tickSize":5,"tickColor":"#808080","domainColor":"#808080"}},
"y":{"field":"val","type":"quantitative","scale":{"domain":[0,80],"nice":false},
"axis":{"title":null,"values":[0,10,20,30,40,50,60,70,80],"labelExpr":"replace(format(datum.value,'.1f'),'.',',')",
"labelFontSize":15,"labelColor":"#000000","labelPadding":4,"tickSize":5,"tickColor":"#808080","domainColor":"#808080",
"grid":true,"gridColor":"#404040","gridWidth":1}},
"color":{"field":"s","type":"nominal",
"scale":{"domain":["a1","a2","a3","a4","a6","vl"],"range":["#008000","#FF00FF","#E46C0A","#00A2FF","#4F6228","#FF0000"]},
"legend":{"title":null,"orient":"none","legendX":34,"legendY":512,"direction":"horizontal","columns":6,"gridAlign":"all","columnPadding":58,
"symbolType":"stroke","symbolSize":784,"symbolStrokeWidth":4,"labelFontSize":14,"labelColor":"#000000","labelOffset":2,
"labelExpr":"datum.value=='a1'?'AG-1 -':datum.value=='a2'?'AG-2 -':datum.value=='a3'?'AG-3 -':datum.value=='a4'?'AG-4 -':datum.value=='a6'?'AG-6 -':'VL zilnica'"}}
},
"layer":[
{"data":{"name":"ag"},"transform":[{"fold":["a1","a2","a3","a4","a6"],"as":["s","val"]}],
"mark":{"type":"line","strokeWidth":3,"invalid":"break-paths-show-domains"}},
{"data":{"name":"vl"},"mark":{"type":"line","strokeWidth":3}}
]
}
